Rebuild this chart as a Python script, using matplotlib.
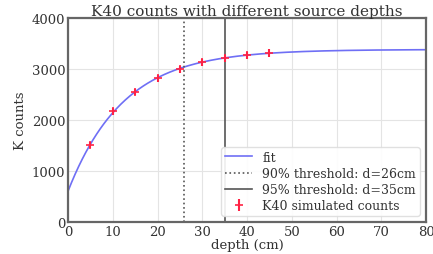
import numpy as np
import matplotlib
matplotlib.use("Agg")
import matplotlib.pyplot as plt

# simulated K40 counts at each source depth (cm)
depths = [5, 10, 15, 20, 25, 30, 35, 40, 45]
counts = [1510, 2170, 2550, 2820, 3000, 3130, 3210, 3270, 3320]
count_errs = [60, 65, 65, 65, 70, 70, 70, 75, 75]

# exponential saturation fit: A - B * exp(-d / lam)
fit_A = 3385.0
fit_B = 2780.0
fit_lam = 12.4
thr90 = 26
thr95 = 35

plt.rcParams["font.family"] = "DejaVu Serif"

fig, ax = plt.subplots(figsize=(4.33, 2.55), dpi=100)

d = np.linspace(0, 80, 400)
ax.plot(d, fit_A - fit_B * np.exp(-d / fit_lam), color="#6f6ff5", lw=1.2, label="fit")
ax.axvline(thr90, color="#555555", ls=":", lw=1.2, label="90% threshold: d=26cm")
ax.axvline(thr95, color="#555555", ls="-", lw=1.2, label="95% threshold: d=35cm")
ax.errorbar(depths, counts, yerr=count_errs, fmt="+", color="#ff2244", ms=6,
            mew=1.2, elinewidth=1.5, capsize=0, label="K40 simulated counts")

ax.set_xlim(0, 80)
ax.set_ylim(0, 4000)
ax.set_xticks(range(0, 81, 10))
ax.set_yticks(range(0, 4001, 1000))
ax.grid(True, color="#e4e4e4", lw=0.8)
ax.set_axisbelow(True)
for s in ax.spines.values():
    s.set_color("#666666")
    s.set_linewidth(1.6)
ax.tick_params(labelsize=9.5, colors="#333333", length=0, pad=2)
ax.set_title("K40 counts with different source depths", fontsize=11,
             color="#333333", pad=2)
ax.set_xlabel("depth (cm)", fontsize=9.5, color="#333333", labelpad=0)
ax.set_ylabel("K counts", fontsize=9.5, color="#333333", labelpad=3)

leg = ax.legend(loc="lower right", fontsize=9, frameon=True, handlelength=2.2,
                borderpad=0.3, labelspacing=0.25)
leg.get_frame().set_edgecolor("#dddddd")
leg.get_frame().set_alpha(0.9)
for t in leg.get_texts():
    t.set_color("#333333")

fig.subplots_adjust(left=0.157, right=0.984, top=0.925, bottom=0.125)
fig.savefig("out.png")
